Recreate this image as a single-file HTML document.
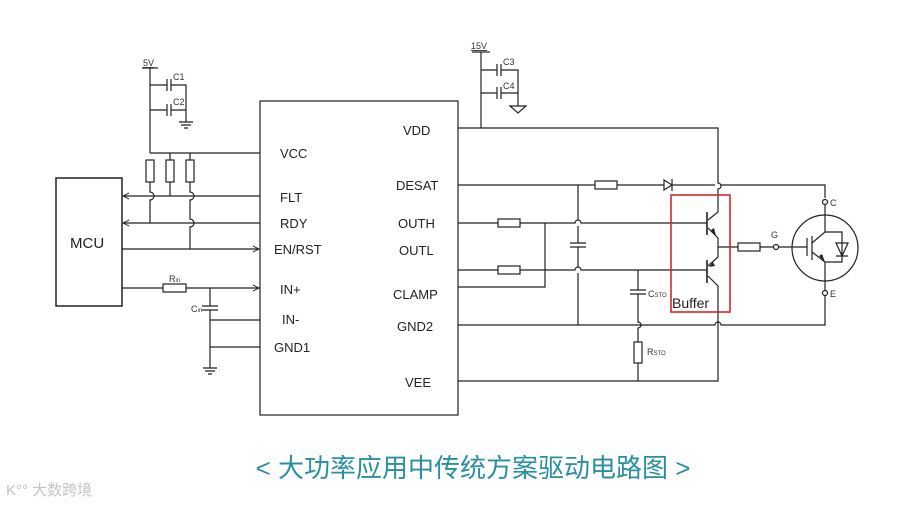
<!DOCTYPE html>
<html><head><meta charset="utf-8"><style>
html,body{margin:0;padding:0;background:#fff;}
svg{display:block;font-family:"Liberation Sans","Noto Sans CJK SC",sans-serif;}
</style></head><body>
<svg width="900" height="505" viewBox="0 0 900 505" xmlns="http://www.w3.org/2000/svg">
<defs>
<marker id="ar" markerWidth="8" markerHeight="8" refX="7" refY="4" orient="auto" markerUnits="userSpaceOnUse">
<path d="M1,1 L7,4 L1,7" fill="none" stroke="#222" stroke-width="1"/></marker>
</defs>
<g stroke="#222" stroke-width="1.2" fill="none">
<rect x="260" y="101" width="198" height="314"/>
<rect x="56" y="178" width="66" height="128" stroke-width="1.5"/>
<line x1="142" y1="68" x2="158" y2="68"/>
<line x1="150" y1="68" x2="150" y2="153"/>
<path d="M150,85 H167 M167,79 V91 M171,79 V91 M171,85 H186 V122"/>
<path d="M150,110 H167 M167,104 V116 M171,104 V116 M171,110 H186"/>
<path d="M179,122 H193 M181,125 H191 M184,128 H188"/>
<line x1="150" y1="153" x2="260" y2="153"/>
<rect x="146" y="160" width="8" height="22" fill="#fff"/>
<rect x="166" y="160" width="8" height="22" fill="#fff"/>
<rect x="186" y="160" width="8" height="22" fill="#fff"/>
<line x1="170" y1="153" x2="170" y2="160"/><line x1="190" y1="153" x2="190" y2="160"/>
<path d="M150,182 V192 A4,4 0 0 1 150,200 V223"/>
<path d="M170,182 V196"/>
<path d="M190,182 V192 A4,4 0 0 1 190,200 V219 A4,4 0 0 1 190,227 V249"/>
<line x1="260" y1="196" x2="123" y2="196" marker-end="url(#ar)"/>
<line x1="260" y1="223" x2="123" y2="223" marker-end="url(#ar)"/>
<line x1="122" y1="249" x2="259" y2="249" marker-end="url(#ar)"/>
<line x1="122" y1="288" x2="163" y2="288"/>
<rect x="163" y="284" width="23" height="8" fill="#fff"/>
<line x1="186" y1="288" x2="259" y2="288" marker-end="url(#ar)"/>
<path d="M210,288 V306 M202,306 H218 M202,310 H218 M210,310 V368"/>
<path d="M210,320 H260 M210,347 H260"/>
<path d="M203,368 H217 M205,371 H215 M208,374 H212"/>
<line x1="472" y1="52" x2="490" y2="52"/>
<line x1="481" y1="52" x2="481" y2="128"/>
<path d="M481,70 H497 M497,64 V76 M501,64 V76 M501,70 H518 V106"/>
<path d="M481,93 H497 M497,87 V99 M501,87 V99 M501,93 H518"/>
<path d="M510,106 H526 L518,113 Z"/>
<path d="M458,128 H718 V183 A3,3 0 0 1 718,189 V212 L708,220"/>
<path d="M458,185 H595 M617,185 H664 M672,185 H715 M721,185 H825 V198"/>
<rect x="595" y="181" width="22" height="8" fill="#fff"/>
<path d="M664,180 L672,185 L664,190 Z M672,179 V191"/>
<path d="M458,223 H498 M520,223 H575 A3,3 0 0 1 581,223 H707"/>
<rect x="498" y="219" width="22" height="8" fill="#fff"/>
<path d="M458,270 H498 M520,270 H575 A3,3 0 0 1 581,270 H707"/>
<rect x="498" y="266" width="22" height="8" fill="#fff"/>
<path d="M458,287 H545 V223"/>
<path d="M578,185 V220 M578,226 V243 M570,243 H586 M570,247 H586 M578,247 V267 M578,273 V325"/>
<path d="M638,270 V290 M630,290 H646 M630,294 H646 M638,294 V322 A3,3 0 0 1 638,328 V342 M638,363 V381"/>
<rect x="634" y="342" width="8" height="21" fill="#fff"/>
<path d="M458,325 H715 A3,3 0 0 1 721,325 H825 V296"/>
<path d="M458,381 H718 V286 L708,276"/>
<line x1="707" y1="212" x2="707" y2="235" stroke-width="1.6"/>
<line x1="707" y1="260" x2="707" y2="283" stroke-width="1.6"/>
<path d="M708,228 L718,238 V257 L708,266"/>
<path d="M718,247 H738 M760,247 H773"/>
<rect x="738" y="243" width="22" height="8" fill="#fff"/>
<circle cx="776" cy="247" r="2.5" fill="#fff"/>
<circle cx="825" cy="202" r="2.5" fill="#fff"/>
<circle cx="825" cy="293" r="2.5" fill="#fff"/>
<circle cx="825" cy="248" r="33"/>
<path d="M779,247 H807 M807,238 V256 M812,236 V260 M812,243 L825,232 V205 M812,252 L825,262 V290"/>
<path d="M825,232 H842 V262 H825 M836,256 H848 M836,243 H848 L842,256 Z"/>
</g>
<g fill="#222">
<path d="M716,236 L711,230 L714,228 Z"/>
<path d="M709,267 L713,262 L715,266 Z"/>
<path d="M825,262 L819,256 L822,254 Z"/>
</g>
<rect x="671" y="195" width="59" height="117" fill="none" stroke="#d6262b" stroke-width="1.6"/>
<g fill="#222" font-size="13">
<text x="280" y="158">VCC</text><text x="280" y="202">FLT</text><text x="280" y="228">RDY</text>
<text x="274" y="254">EN/RST</text><text x="280" y="294">IN+</text><text x="282" y="324">IN-</text>
<text x="274" y="352">GND1</text>
<text x="403" y="135">VDD</text><text x="396" y="190">DESAT</text><text x="398" y="228">OUTH</text>
<text x="399" y="255">OUTL</text><text x="393" y="299">CLAMP</text><text x="397" y="331">GND2</text>
<text x="405" y="387">VEE</text>
<text x="70" y="248" font-size="15">MCU</text>
<text x="672" y="308" font-size="14">Buffer</text>
</g>
<g fill="#333" font-size="9">
<text x="143" y="66" text-decoration="underline">5V</text>
<text x="173" y="80">C1</text><text x="173" y="105">C2</text>
<text x="471" y="49" text-decoration="underline">15V</text>
<text x="503" y="65">C3</text><text x="503" y="89">C4</text>
<text x="169" y="282">R<tspan font-size="6">in</tspan></text>
<text x="191" y="312">C<tspan font-size="6">in</tspan></text>
<text x="648" y="297">C<tspan font-size="6">STO</tspan></text>
<text x="647" y="355">R<tspan font-size="6">STO</tspan></text>
<text x="771" y="238">G</text><text x="830" y="206">C</text><text x="830" y="297">E</text>
</g>
<text x="473" y="477" text-anchor="middle" font-size="26" fill="#2a8fa0">&lt; 大功率应用中传统方案驱动电路图 &gt;</text>
<text x="6" y="495" font-size="15" fill="#c4c4c4">K°° 大数跨境</text>
</svg>
</body></html>
